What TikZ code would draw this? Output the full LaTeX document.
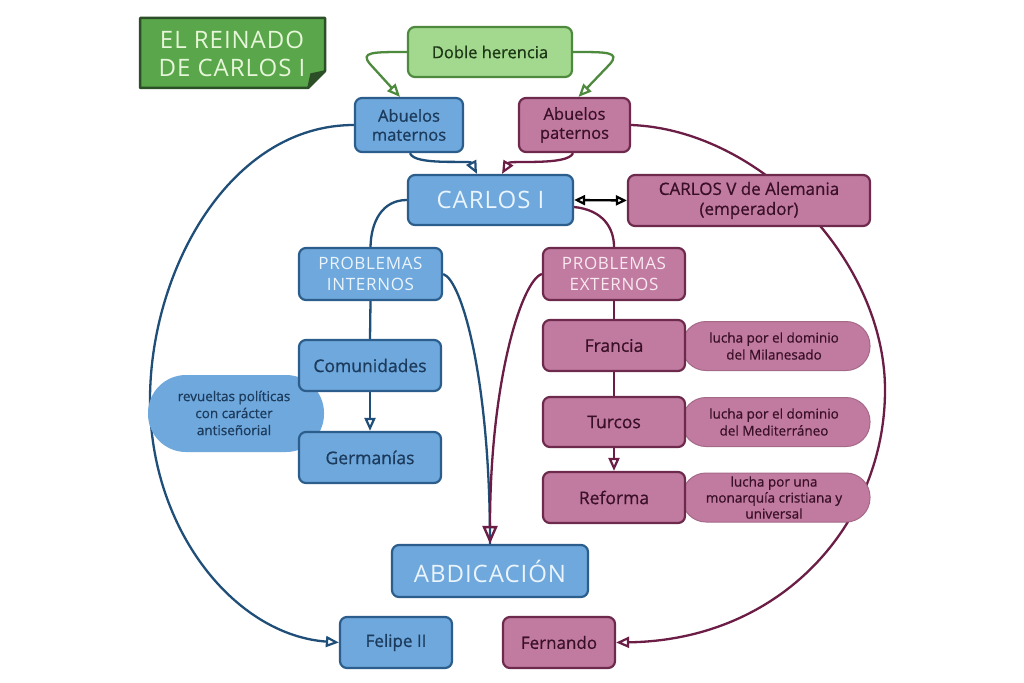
\documentclass[tikz,border=0pt]{standalone}
\usepackage{fontspec}
\setmainfont{Open Sans}[FakeBold=0.7]
\newfontfamily\capsfont[LetterSpace=4]{Open Sans}
\usetikzlibrary{arrows.meta}
\pgfdeclarelayer{bg}
\pgfdeclarelayer{paper}
\pgfsetlayers{paper,bg,main}
\definecolor{bfill}{HTML}{6FA8DC}
\definecolor{bdraw}{HTML}{2B5E8C}
\definecolor{btext}{HTML}{1B3A5C}
\definecolor{pfill}{HTML}{C27BA0}
\definecolor{pdraw}{HTML}{6E2A4C}
\definecolor{ptext}{HTML}{3A1028}
\definecolor{lighttext}{HTML}{EAF4FC}
\definecolor{lightpink}{HTML}{F8E8F0}
\definecolor{gfill}{HTML}{5AA64A}
\definecolor{gdraw}{HTML}{2C4F27}
\definecolor{gtext}{HTML}{E6F6D8}
\definecolor{lgfill}{HTML}{A3D98F}
\definecolor{lgdraw}{HTML}{4E8A3E}
\definecolor{lgtext}{HTML}{1E3817}
\definecolor{bline}{HTML}{1F4E79}
\definecolor{pline}{HTML}{6B1D45}
\newcommand\fsz[2]{\fontsize{#1}{#2}\selectfont}
\tikzset{
  box/.style={draw, line width=2.2pt, rounded corners=7pt, align=center, inner sep=0pt},
  bluebox/.style={box, fill=bfill, draw=bdraw, text=btext},
  pinkbox/.style={box, fill=pfill, draw=pdraw, text=ptext},
  bluecap/.style={bluebox, text=lighttext},
  pinkcap/.style={pinkbox, text=lightpink},
  bpill/.style={fill=bfill, rounded corners=38pt, inner sep=0pt, align=center, text=btext},
  ppill/.style={fill=pfill, draw=pfill!85!black, line width=1pt, rounded corners=24pt, inner sep=0pt, align=center, text=ptext},
  ptxt/.style={align=center, inner sep=0pt, font=\fsz{13.5}{17}},
  conn/.style={line width=2.3pt},
  opentip/.style={-{Triangle[open,length=13pt,width=11pt,line width=2.2pt]}},
  bigtip/.style={-{Triangle[open,length=18pt,width=15pt,line width=2.4pt]}},
}
\begin{document}
\begin{tikzpicture}[x=1pt,y=-1pt]
\useasboundingbox (0,0) rectangle (1024,682);
\begin{pgfonlayer}{paper}
\fill[white] (0,0) rectangle (1024,682);
\end{pgfonlayer}

% title with folded corner
\coordinate (tA) at (140,18);
\coordinate (tB) at (325,18);
\coordinate (tC) at (325,71);
\coordinate (tD) at (308,88);
\coordinate (tE) at (140,88);
\filldraw[fill=gfill, draw=gdraw, line width=2.5pt, line join=round] (tA) -- (tB) -- (tC) -- (tD) -- (tE) -- cycle;
\coordinate (tF) at (311,74);
\filldraw[fill=gdraw, draw=gdraw, line width=1.5pt, line join=round] (tC) -- (tF) -- (tD) -- cycle;
\node[text=gtext, align=center, inner sep=0pt, font={\capsfont\fsz{24}{28}}] (title) at (232,54) {EL REINADO\\DE CARLOS I};

% pills (behind boxes)
\node[bpill, minimum width=176pt, minimum height=77pt] (rev) at (236,413.5) {};
\node[ptxt, text=btext] (revt) at (234,413) {revueltas políticas\\con carácter\\antiseñorial};
\node[ppill, minimum width=188pt, minimum height=49pt] (p1) at (776,346) {};
\node[ptxt, text=ptext] (p1t) at (774,346) {lucha por el dominio\\del Milanesado};
\node[ppill, minimum width=188pt, minimum height=49pt] (p2) at (776,422) {};
\node[ptxt, text=ptext] (p2t) at (774,422) {lucha por el dominio\\del Mediterráneo};
\node[ppill, minimum width=188pt, minimum height=49pt] (p3) at (776,497.5) {};
\node[ptxt, text=ptext, font=\fsz{13.5}{16}] (p3t) at (774,497.5) {lucha por una\\monarquía cristiana y\\universal};

% boxes
\node[box, fill=lgfill, draw=lgdraw, text=lgtext, minimum width=164pt, minimum height=50pt, font=\fsz{16.5}{19}] (doble) at (490,52) {Doble herencia};
\node[bluebox, minimum width=108pt, minimum height=54pt, font=\fsz{16.5}{19}] (amat) at (409,125) {Abuelos\\maternos};
\node[pinkbox, minimum width=111pt, minimum height=54pt, font=\fsz{16.5}{19}] (apat) at (574.5,125) {Abuelos\\paternos};
\node[bluecap, minimum width=165pt, minimum height=50pt, font={\capsfont\fsz{24}{27}}] (c1) at (490.5,200) {CARLOS I};
\node[pinkbox, minimum width=242pt, minimum height=51pt, font=\fsz{17}{20}] (c5) at (749,200.5) {CARLOS V de Alemania\\(emperador)};
\node[bluecap, minimum width=143pt, minimum height=52pt, font={\capsfont\fsz{17}{21}}] (pint) at (370.5,274) {PROBLEMAS\\INTERNOS};
\node[pinkcap, minimum width=142pt, minimum height=52pt, font={\capsfont\fsz{17}{21}}] (pext) at (614,274) {PROBLEMAS\\EXTERNOS};
\node[bluebox, minimum width=142pt, minimum height=51pt, font=\fsz{17.5}{20}] (com) at (370,365.5) {Comunidades};
\node[bluebox, minimum width=142pt, minimum height=51pt, font=\fsz{17.5}{20}] (germ) at (370,457.5) {Germanías};
\node[pinkbox, minimum width=142pt, minimum height=51pt, font=\fsz{17.5}{20}] (fra) at (614,345.5) {Francia};
\node[pinkbox, minimum width=142pt, minimum height=50pt, font=\fsz{17.5}{20}] (tur) at (614,422) {Turcos};
\node[pinkbox, minimum width=142pt, minimum height=51pt, font=\fsz{17.5}{20}] (ref) at (614,497.5) {Reforma};
\node[bluecap, minimum width=196pt, minimum height=52pt, font={\capsfont\fsz{24}{27}}] (abd) at (490,571) {ABDICACIÓN};
\node[bluebox, minimum width=112pt, minimum height=51pt, font=\fsz{17}{20}] (fel) at (396,642.5) {Felipe II};
\node[pinkbox, minimum width=112pt, minimum height=51pt, font=\fsz{17}{20}] (fer) at (559,642.5) {Fernando};

% connectors
\coordinate (bendL) at (370,64);
\coordinate (bendR) at (610,64);
\begin{pgfonlayer}{bg}
\draw[conn, color=lgdraw, opentip] (doble.west) .. controls (372,52) and (360,52) .. (bendL) -- ([xshift=-9pt]amat.north);
\draw[conn, color=lgdraw, opentip] (doble.east) .. controls (608,52) and (620,52) .. (bendR) -- ([xshift=4pt]apat.north);
\draw[conn, color=bline, opentip] ([xshift=1pt]amat.south) .. controls (414,166) and (470,160) .. ([xshift=-13.5pt]c1.north);
\draw[conn, color=pline, opentip] ([xshift=-1.5pt]apat.south) .. controls (568,166) and (510,160) .. ([xshift=11.5pt]c1.north);
\draw[conn, color=black, {Triangle[open,length=11pt,width=10pt,line width=2.2pt]}-{Triangle[open,length=11pt,width=10pt,line width=2.2pt]}] (c1.east) -- (c5.west);
\draw[conn, color=bline, opentip] (amat.west) .. controls (230,125) and (150,270) .. (150,400) .. controls (150,530) and (235,635) .. (fel.west);
\draw[conn, color=pline, opentip] (apat.east) .. controls (760,130) and (885,260) .. (885,390) .. controls (885,520) and (785,640) .. (fer.east);
\draw[conn, color=bline] (c1.west) .. controls (382,200) and (371,222) .. (pint.north);
\draw[conn, color=pline] ([yshift=-7pt]c1.east) .. controls (603,210) and (614,228) .. (pext.north);
\draw[conn, color=bline] (pint.east) .. controls (462,280) and (490,380) .. (abd.north);
\draw[conn, color=pline, bigtip] (pext.west) .. controls (522,280) and (490,380) .. (abd.north);
\draw[conn, color=bline] (pint.south) -- (com.north);
\draw[conn, color=bline, opentip] (com.south) -- (germ.north);
\draw[conn, color=pline] (pext.south) -- (fra.north);
\draw[conn, color=pline] (fra.south) -- (tur.north);
\draw[conn, color=pline, opentip] (tur.south) -- (ref.north);
\end{pgfonlayer}
\end{tikzpicture}
\end{document}
